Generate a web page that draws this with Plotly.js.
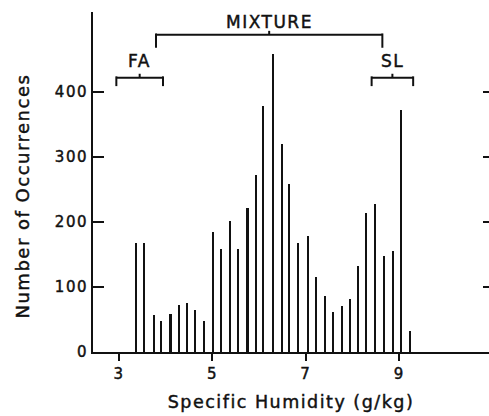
<!DOCTYPE html>
<html>
<head>
<meta charset="utf-8">
<script src="https://cdn.plot.ly/plotly-3.0.1.min.js"></script>
<style>
html, body { margin: 0; padding: 0; background: #fff; }
#chart { width: 489px; height: 416px; }
svg text { letter-spacing: 1.5px; stroke: #111; stroke-width: 0.45px; }
</style>
</head>
<body>
<div id="chart"></div>
<script>
// Specific humidity bin centres (g/kg) and number of occurrences
const humidity = [3.36, 3.54, 3.74, 3.90, 4.10, 4.28, 4.46, 4.63, 4.82, 5.01,
                  5.19, 5.37, 5.54, 5.75, 5.94, 6.09, 6.29, 6.48, 6.64, 6.84,
                  7.04, 7.22, 7.41, 7.58, 7.77, 7.94, 8.11, 8.29, 8.48, 8.68,
                  8.87, 9.03, 9.24];
const counts = [167, 168, 57, 48, 59, 72, 76, 64, 47, 185,
                158, 202, 158, 222, 273, 378, 459, 320, 258, 167,
                178, 115, 86, 62, 70, 81, 133, 214, 228, 148,
                155, 373, 33];
const xTicks = [3, 5, 7, 9];
const yTicks = [0, 100, 200, 300, 400];
const xTitle = 'Specific Humidity (g/kg)';
const yTitle = 'Number of Occurrences';

// Bracketed regions
const regionNames = ['FA', 'MIXTURE', 'SL'];
const regionStart = [2.94, 3.79, 8.41];
const regionEnd = [3.94, 8.64, 9.30];
const regionLevel = [422, 488, 422];

const INK = '#111';
const FONT = 'DejaVu Sans, sans-serif';

const shapes = [];
const annotations = [];
regionNames.forEach((name, i) => {
  const a = regionStart[i], b = regionEnd[i], y = regionLevel[i];
  const drop = name === 'MIXTURE' ? 20 : 13;
  const mid = (a + b) / 2;
  const ln = {color: INK, width: 2};
  shapes.push({type: 'line', xref: 'x', yref: 'y', x0: a, x1: b, y0: y, y1: y, line: ln});
  shapes.push({type: 'line', xref: 'x', yref: 'y', x0: a, x1: a, y0: y + 2, y1: y - drop, line: ln});
  shapes.push({type: 'line', xref: 'x', yref: 'y', x0: b, x1: b, y0: y + 2, y1: y - drop, line: ln});
  shapes.push({type: 'line', xref: 'x', yref: 'y', x0: mid, x1: mid, y0: y, y1: y + 6, line: ln});
  annotations.push({
    x: mid, y: y, xref: 'x', yref: 'y', text: name, showarrow: false,
    yanchor: 'bottom', xanchor: 'center', yshift: name === 'MIXTURE' ? 1 : 5,
    font: {family: FONT, size: 17, color: INK}
  });
});
// y-axis title placed as a rotated annotation
annotations.push({
  xref: 'paper', yref: 'paper', x: -0.177, y: 0.46,
  xanchor: 'center', yanchor: 'middle', textangle: -90,
  text: yTitle, showarrow: false,
  font: {family: FONT, size: 18, color: INK}
});

const traces = [
  {
    type: 'bar', x: humidity, y: counts, width: 0.045,
    marker: {color: INK, line: {width: 0}}, hoverinfo: 'skip'
  },
  {
    type: 'scatter', x: [humidity[0]], y: [counts[0]], yaxis: 'y2',
    mode: 'markers', marker: {opacity: 0}, hoverinfo: 'skip', showlegend: false
  }
];

const layout = {
  width: 489, height: 416,
  margin: {l: 93, r: 0, t: 12, b: 64, pad: 0},
  paper_bgcolor: '#fff', plot_bgcolor: '#fff',
  showlegend: false,
  bargap: 0,
  font: {family: FONT, size: 15, color: INK},
  xaxis: {
    range: [2.44, 10.925], tickvals: xTicks, ticktext: xTicks.map(String),
    ticks: 'outside', ticklen: 7, tickwidth: 2, tickcolor: INK,
    showline: true, linewidth: 2, linecolor: INK,
    showgrid: false, zeroline: false,
    tickfont: {family: FONT, size: 15, color: INK},
    title: {text: xTitle, standoff: 14,
            font: {family: FONT, size: 17.5, color: INK}}
  },
  yaxis: {
    range: [0, 523], tickvals: yTicks, ticktext: yTicks.map(String),
    ticks: 'inside', ticklen: 11, tickwidth: 2, tickcolor: INK,
    showline: true, linewidth: 2, linecolor: INK,
    showgrid: false, zeroline: false,
    tickfont: {family: FONT, size: 15, color: INK}
  },
  yaxis2: {
    overlaying: 'y', side: 'right', matches: 'y', range: [0, 523],
    tickvals: yTicks, showticklabels: false,
    ticks: 'inside', ticklen: 6, tickwidth: 2, tickcolor: INK,
    showline: false, showgrid: false, zeroline: false
  },
  shapes: shapes,
  annotations: annotations
};

Plotly.newPlot('chart', traces, layout, {staticPlot: true, displayModeBar: false});
</script>
</body>
</html>
